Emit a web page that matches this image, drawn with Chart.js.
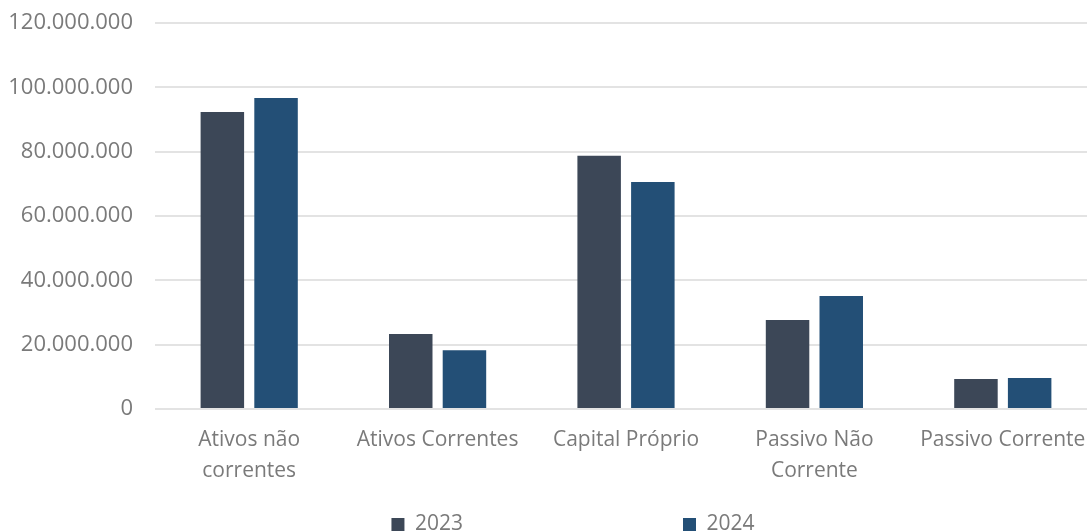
<!DOCTYPE html>
<html>
<head>
<meta charset="utf-8">
<script src="https://cdn.jsdelivr.net/npm/chart.js@4"></script>
<style>
  html, body { margin: 0; padding: 0; background: #fff; overflow: hidden; }
  #wrap { width: 1097px; height: 545px; }
</style>
</head>
<body>
<div id="wrap"><canvas id="balanco"></canvas></div>
<script>
// categorias e valores (euros)
const categorias = [
  ["Ativos não", "correntes"],
  "Ativos Correntes",
  "Capital Próprio",
  ["Passivo Não", "Corrente"],
  "Passivo Corrente"
];
const anos = ["2023", "2024"];
const valores2023 = [92300000, 23300000, 78700000, 27700000, 9300000];
const valores2024 = [96700000, 18300000, 70600000, 35100000, 9600000];
const yTicks = [0, 20000000, 40000000, 60000000, 80000000, 100000000, 120000000];

const cinza = "#7a7a7a";
const fonte = { family: "'Open Sans', sans-serif", size: 21 };

// formato 120.000.000
function pontos(v) {
  return String(Math.round(v)).replace(/\B(?=(\d{3})+(?!\d))/g, ".");
}

new Chart(document.getElementById("balanco"), {
  type: "bar",
  data: {
    labels: categorias,
    datasets: [
      {
        label: anos[0],
        data: valores2023,
        backgroundColor: "#3c4757",
        categoryPercentage: 0.57,
        barPercentage: 0.81
      },
      {
        label: anos[1],
        data: valores2024,
        backgroundColor: "#234f76",
        categoryPercentage: 0.57,
        barPercentage: 0.81
      }
    ]
  },
  options: {
    responsive: true,
    maintainAspectRatio: false,
    animation: false,
    layout: { padding: { top: 0, left: 10, right: 0, bottom: 0 } },
    plugins: {
      legend: {
        position: "bottom",
        labels: {
          color: cinza,
          font: fonte,
          boxWidth: 13,
          boxHeight: 13,
          padding: 10,
          // espaçamento largo entre as entradas, como no Excel
          generateLabels: function (chart) {
            const items = Chart.defaults.plugins.legend.labels.generateLabels(chart);
            items[0].text = items[0].text + "\u2003".repeat(10);
            const vazio = {
              text: " ",
              fillStyle: "rgba(0,0,0,0)",
              strokeStyle: "rgba(0,0,0,0)",
              lineWidth: 0,
              datasetIndex: -1
            };
            return [vazio].concat(items);
          }
        },
        onClick: function () {}
      },
      tooltip: { enabled: false }
    },
    scales: {
      x: {
        grid: { display: false },
        border: { display: false },
        ticks: {
          color: cinza,
          font: Object.assign({ lineHeight: 1.45 }, fonte),
          maxRotation: 0,
          autoSkip: false,
          padding: 8
        },
        afterFit: function (axis) {
          axis.height = 95;
        }
      },
      y: {
        min: 0,
        max: 120000000,
        afterBuildTicks: function (axis) {
          axis.ticks = yTicks.map(v => ({ value: v }));
        },
        afterFit: function (axis) {
          axis.width = 145;
          axis.paddingTop = 23;
          axis.paddingBottom = 0;
        },
        grid: { color: "#e3e3e3", lineWidth: 2, drawTicks: false },
        border: { display: false },
        ticks: {
          color: cinza,
          font: { family: fonte.family, size: 22 },
          padding: 22,
          callback: v => pontos(v)
        }
      }
    }
  }
});
</script>
</body>
</html>
